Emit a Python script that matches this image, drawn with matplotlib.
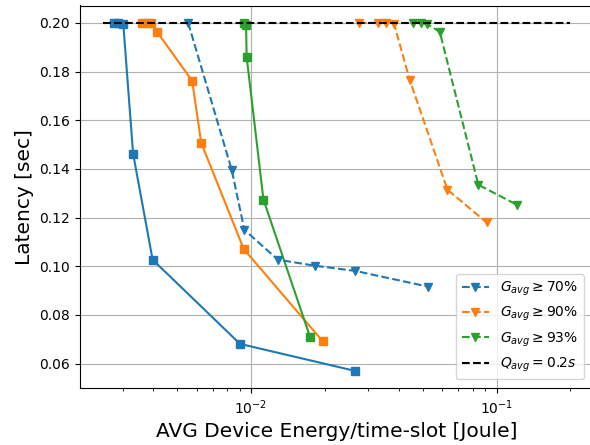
import matplotlib
matplotlib.use("Agg")
import matplotlib.pyplot as plt

# Solid lines (square markers)
blue_solid_x = [0.00277, 0.00288, 0.00302, 0.00331, 0.003975, 0.00902, 0.02655]
blue_solid_y = [0.2000, 0.2000, 0.1994, 0.1463, 0.1027, 0.0681, 0.0570]

orange_solid_x = [0.00361, 0.00378, 0.00393, 0.00414, 0.00576, 0.00627, 0.00934, 0.01958]
orange_solid_y = [0.2000, 0.2000, 0.2000, 0.1964, 0.1762, 0.1507, 0.1071, 0.0692]

green_solid_x = [0.00940, 0.00955, 0.00960, 0.01124, 0.01738]
green_solid_y = [0.2000, 0.1990, 0.1861, 0.1274, 0.0711]

# Dashed lines (triangle markers)
blue_dash_x = [0.00555, 0.00834, 0.00940, 0.01286, 0.01827, 0.02655, 0.05278]
blue_dash_y = [0.2000, 0.1397, 0.1150, 0.1027, 0.1002, 0.0981, 0.0916]

orange_dash_x = [0.02756, 0.03296, 0.03554, 0.03831, 0.04426, 0.0631, 0.0911]
orange_dash_y = [0.2000, 0.2000, 0.2000, 0.1994, 0.1767, 0.1315, 0.1180]

green_dash_x = [0.04570, 0.04909, 0.05229, 0.05870, 0.0843, 0.1208]
green_dash_y = [0.2000, 0.2000, 0.1994, 0.1964, 0.1335, 0.1253]

qos_x = [0.0025, 0.2]
qos_y = [0.2, 0.2]

labels = [r"$G_{avg} \geq 70\%$", r"$G_{avg} \geq 90\%$",
          r"$G_{avg} \geq 93\%$", r"$Q_{avg} = 0.2s$"]

fig = plt.figure(figsize=(5.9, 4.45), dpi=100)
ax = fig.add_axes([79.8 / 590, (445 - 388.3) / 445, 514 / 590, (388.3 - 5.5) / 445])

ax.plot(blue_solid_x, blue_solid_y, '-s', color='C0')
ax.plot(orange_solid_x, orange_solid_y, '-s', color='C1')
ax.plot(green_solid_x, green_solid_y, '-s', color='C2')
ax.plot(blue_dash_x, blue_dash_y, '--v', color='C0', label=labels[0])
ax.plot(orange_dash_x, orange_dash_y, '--v', color='C1', label=labels[1])
ax.plot(green_dash_x, green_dash_y, '--v', color='C2', label=labels[2])
ax.plot(qos_x, qos_y, 'k--', label=labels[3])

ax.set_xscale('log')
ax.grid(True)
ax.set_xlabel("AVG Device Energy/time-slot [Joule]", fontsize=14.5)
ax.set_ylabel("Latency [sec]", fontsize=14.5)
ax.tick_params(labelsize=10)
ax.legend(loc='lower right', fontsize=10, bbox_to_anchor=(0.9945, 0.005))

fig.savefig("out.png", dpi=100)
